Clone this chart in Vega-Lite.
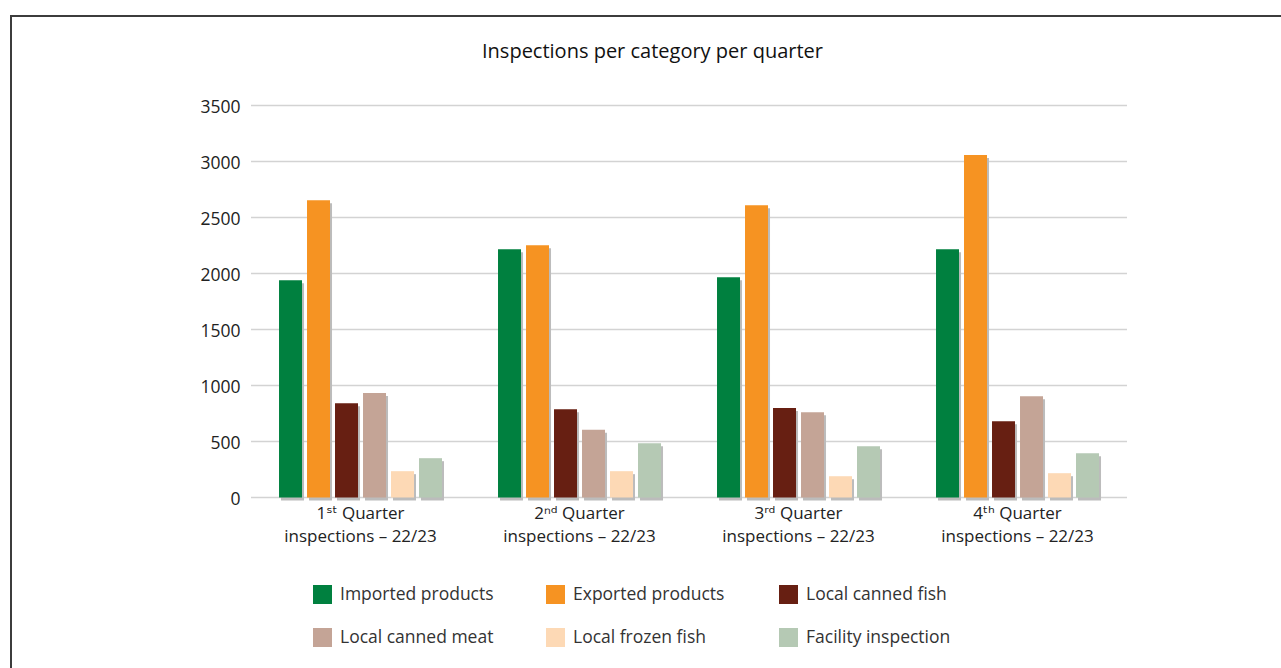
{
  "$schema": "https://vega.github.io/schema/vega-lite/v6.json",
  "autosize": {"type": "none"},
  "padding": {"left": 11, "top": 16, "right": 0, "bottom": 0},
  "width": 1275,
  "height": 660,
  "background": "white",
  "config": {
    "font": "Open Sans",
    "view": {"stroke": "#3c3c3c", "strokeWidth": 2, "fill": "white"}
  },
  "title": {
    "text": "Inspections per category per quarter",
    "fontSize": 20,
    "fontWeight": "normal",
    "font": "Open Sans",
    "color": "#111111",
    "anchor": "middle",
    "baseline": "alphabetic",
    "frame": "group",
    "offset": -62,
    "dx": 4
  },
  "datasets": {
    "grid": [
      {"v": 0}, {"v": 500}, {"v": 1000}, {"v": 1500},
      {"v": 2000}, {"v": 2500}, {"v": 3000}, {"v": 3500}
    ],
    "bars": [
      {"quarter": "1ˢᵗ Quarter inspections – 22/23", "category": "Imported products", "value": 1940},
      {"quarter": "1ˢᵗ Quarter inspections – 22/23", "category": "Exported products", "value": 2655},
      {"quarter": "1ˢᵗ Quarter inspections – 22/23", "category": "Local canned fish", "value": 842},
      {"quarter": "1ˢᵗ Quarter inspections – 22/23", "category": "Local canned meat", "value": 932},
      {"quarter": "1ˢᵗ Quarter inspections – 22/23", "category": "Local frozen fish", "value": 235},
      {"quarter": "1ˢᵗ Quarter inspections – 22/23", "category": "Facility inspection", "value": 351},
      {"quarter": "2ⁿᵈ Quarter inspections – 22/23", "category": "Imported products", "value": 2217},
      {"quarter": "2ⁿᵈ Quarter inspections – 22/23", "category": "Exported products", "value": 2253},
      {"quarter": "2ⁿᵈ Quarter inspections – 22/23", "category": "Local canned fish", "value": 789},
      {"quarter": "2ⁿᵈ Quarter inspections – 22/23", "category": "Local canned meat", "value": 604},
      {"quarter": "2ⁿᵈ Quarter inspections – 22/23", "category": "Local frozen fish", "value": 235},
      {"quarter": "2ⁿᵈ Quarter inspections – 22/23", "category": "Facility inspection", "value": 485},
      {"quarter": "3ʳᵈ Quarter inspections – 22/23", "category": "Imported products", "value": 1967},
      {"quarter": "3ʳᵈ Quarter inspections – 22/23", "category": "Exported products", "value": 2610},
      {"quarter": "3ʳᵈ Quarter inspections – 22/23", "category": "Local canned fish", "value": 798},
      {"quarter": "3ʳᵈ Quarter inspections – 22/23", "category": "Local canned meat", "value": 762},
      {"quarter": "3ʳᵈ Quarter inspections – 22/23", "category": "Local frozen fish", "value": 190},
      {"quarter": "3ʳᵈ Quarter inspections – 22/23", "category": "Facility inspection", "value": 458},
      {"quarter": "4ᵗʰ Quarter inspections – 22/23", "category": "Imported products", "value": 2217},
      {"quarter": "4ᵗʰ Quarter inspections – 22/23", "category": "Exported products", "value": 3057},
      {"quarter": "4ᵗʰ Quarter inspections – 22/23", "category": "Local canned fish", "value": 681},
      {"quarter": "4ᵗʰ Quarter inspections – 22/23", "category": "Local canned meat", "value": 905},
      {"quarter": "4ᵗʰ Quarter inspections – 22/23", "category": "Local frozen fish", "value": 217},
      {"quarter": "4ᵗʰ Quarter inspections – 22/23", "category": "Facility inspection", "value": 396}
    ]
  },
  "resolve": {"scale": {"x": "independent"}},
  "layer": [
    {
      "data": {"name": "grid"},
      "mark": {"type": "rule", "color": "#d3d3d3", "strokeWidth": 1.5},
      "encoding": {
        "x": {"datum": 0.5, "type": "quantitative", "scale": {"domain": [-0.5959, 5.226], "nice": false, "zero": false}, "axis": null},
        "x2": {"datum": 4.5},
        "y": {
          "field": "v", "type": "quantitative",
          "scale": {"domain": [-1593.75, 4299.1], "nice": false, "zero": false},
          "axis": {
            "title": null, "values": [0, 500, 1000, 1500, 2000, 2500, 3000, 3500], "format": "d",
            "grid": false, "domain": false, "ticks": false, "tickSize": 0,
            "offset": -229, "labelPadding": 0, "labelOffset": 2,
            "labelFontSize": 17.5, "labelColor": "#222222"
          }
        }
      }
    },
    {
      "data": {"name": "bars"},
      "resolve": {"scale": {"xOffset": "independent"}},
      "encoding": {
        "x": {
          "field": "quarter", "type": "nominal", "sort": null,
          "scale": {"paddingInner": 0.17808, "paddingOuter": 1, "align": 0.5925, "round": false},
          "axis": {
            "orient": "bottom", "title": null, "domain": false, "ticks": false, "tickSize": 0,
            "offset": -178.5, "labelPadding": 8, "labelAngle": 0,
            "labelFontSize": 17, "labelColor": "#222222", "labelFont": "Open Sans, DejaVu Sans",
            "labelLineHeight": 23, "labelBaseline": "top", "labelLimit": 400, "labelOverlap": false,
            "labelExpr": "[slice(datum.label, 0, indexof(datum.label, 'Quarter') + 7), slice(datum.label, indexof(datum.label, 'Quarter') + 8)]"
          }
        },
        "y": {
          "field": "value", "type": "quantitative",
          "scale": {"domain": [-1593.75, 4299.1], "nice": false, "zero": false}
        },
        "y2": {"datum": 0}
      },
      "layer": [
        {
          "mark": {"type": "bar", "color": "#bcbcbc", "yOffset": 3, "y2Offset": 3},
          "encoding": {
            "xOffset": {
              "field": "category", "type": "nominal",
              "scale": {"domain": ["Imported products", "Exported products", "Local canned fish", "Local canned meat", "Local frozen fish", "Facility inspection"], "paddingInner": 0.17857, "paddingOuter": 0.3036, "align": 0.6176, "round": false}
            }
          }
        },
        {
          "mark": {"type": "bar"},
          "encoding": {
            "xOffset": {
              "field": "category", "type": "nominal",
              "scale": {"domain": ["Imported products", "Exported products", "Local canned fish", "Local canned meat", "Local frozen fish", "Facility inspection"], "paddingInner": 0.17857, "paddingOuter": 0.3036, "align": 0.5, "round": false}
            },
            "color": {
              "field": "category", "type": "nominal",
              "scale": {
                "domain": ["Imported products", "Exported products", "Local canned fish", "Local canned meat", "Local frozen fish", "Facility inspection"],
                "range": ["#00803f", "#f69322", "#671f12", "#c4a496", "#fdd9b5", "#b5c9b4"]
              },
              "legend": {
                "orient": "none", "legendX": 302, "legendY": 569, "direction": "horizontal",
                "title": null, "columns": 3, "gridAlign": "all",
                "columnPadding": 52, "rowPadding": 24,
                "symbolType": "square", "symbolSize": 361, "symbolStrokeWidth": 0, "symbolOpacity": 1,
                "labelFontSize": 17.5, "labelColor": "#333333", "labelOffset": 8, "labelLimit": 300
              }
            }
          }
        }
      ]
    }
  ]
}
